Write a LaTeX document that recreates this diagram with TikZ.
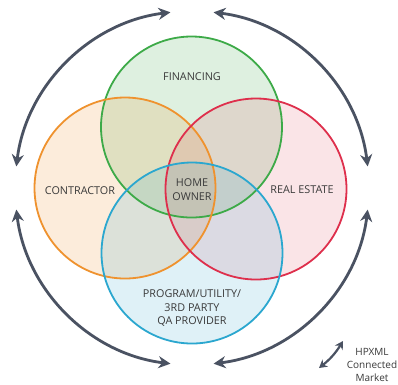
\documentclass[tikz,border=0pt]{standalone}
\usepackage{fontspec}
\setmainfont{Open Sans}
\usetikzlibrary{arrows.meta}
\definecolor{cgreen}{HTML}{3DAA48}
\definecolor{corange}{HTML}{EF922E}
\definecolor{cred}{HTML}{DE2F4C}
\definecolor{cblue}{HTML}{2BA7CF}
\definecolor{carrow}{HTML}{4A5262}
\definecolor{ctext}{HTML}{3A3A3A}
\tikzset{
  venn/.style={circle, minimum size=181pt, inner sep=0pt, line width=1.8pt},
  lbl/.style={text=ctext, font=\fontsize{10.8}{14}\selectfont, align=center, inner sep=0pt},
  cyc/.style={draw=carrow, line width=2.8pt, {Stealth[length=12pt,width=12pt]}-{Stealth[length=12pt,width=12pt]}},
  leg/.style={draw=carrow, line width=2.2pt, {Stealth[length=8pt,width=9pt]}-{Stealth[length=8pt,width=9pt]}},
}
\begin{document}
\begin{tikzpicture}[x=1pt,y=-1pt]
\useasboundingbox (0,0) rectangle (398,384);
\fill[white] (0,0) rectangle (398,384);
% fills
\node[venn, fill=cgreen, fill opacity=0.17] (finf) at (191.5,127) {};
\node[venn, fill=corange, fill opacity=0.17] (conf) at (125,188) {};
\node[venn, fill=cred, fill opacity=0.13] (reaf) at (256,189) {};
\node[venn, fill=cblue, fill opacity=0.15] (prof) at (192,253) {};
% strokes
\node[venn, draw=cgreen] (fin) at (191.5,127) {};
\node[venn, draw=corange] (con) at (125,188) {};
\node[venn, draw=cred] (rea) at (256,189) {};
\node[venn, draw=cblue] (pro) at (192,253) {};
% labels
\node[lbl] (tfin) at (192,77) {FINANCING};
\node[lbl] (tcon) at (80,191) {CONTRACTOR};
\node[lbl] (trea) at (302,190) {REAL ESTATE};
\node[lbl] (thome) at (192,190) {HOME\\OWNER};
\node[lbl, font=\fontsize{10.8}{13.5}\selectfont] (tpro) at (192,308) {PROGRAM/UTILITY/\\3RD PARTY\\QA PROVIDER};
% cycle arrows
\coordinate (ctr) at (192,188);
\draw[cyc] (ctr) ++(7:177) arc[start angle=7, end angle=83, radius=177];
\draw[cyc] (ctr) ++(97:177) arc[start angle=97, end angle=173, radius=177];
\draw[cyc] (ctr) ++(187:177) arc[start angle=187, end angle=263, radius=177];
\draw[cyc] (ctr) ++(277:177) arc[start angle=277, end angle=353, radius=177];
% legend
\coordinate (la) at (319,368);
\coordinate (lb) at (343,341);
\draw[leg] (la) to[bend right=10] (lb);
\node[text=ctext, font=\fontsize{10}{13}\selectfont, align=center, inner sep=0pt] (tleg) at (372,365) {HPXML\\Connected\\Market};
\end{tikzpicture}
\end{document}
